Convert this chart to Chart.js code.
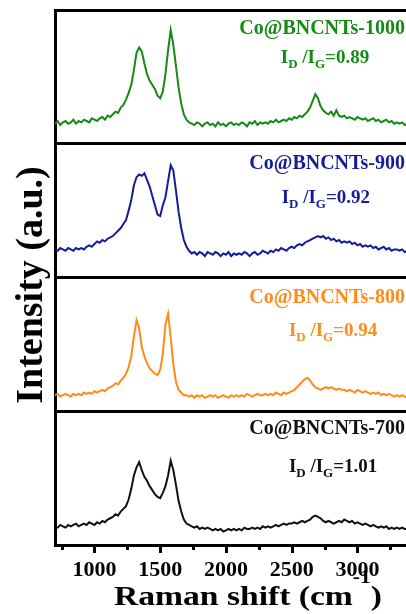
<!DOCTYPE html>
<html>
<head>
<meta charset="utf-8">
<script src="https://cdn.jsdelivr.net/npm/chart.js"></script>
<style>
  html, body { margin: 0; padding: 0; background: #fff; overflow: hidden; }
  #raman { display: block; }
</style>
</head>
<body>
<canvas id="raman" width="410" height="614"></canvas>
<script>
// Raman shift sampling (cm-1)
const shift = [
  700, 720, 740, 760, 780, 800, 820, 840, 860, 880,
  900, 920, 940, 960, 980, 1000, 1020, 1040, 1060, 1080,
  1100, 1120, 1140, 1160, 1180, 1200, 1220, 1240, 1260, 1280,
  1300, 1320, 1340, 1360, 1380, 1400, 1420, 1440, 1460, 1480,
  1500, 1520, 1540, 1560, 1580, 1600, 1620, 1640, 1660, 1680,
  1700, 1720, 1740, 1760, 1780, 1800, 1820, 1840, 1860, 1880,
  1900, 1920, 1940, 1960, 1980, 2000, 2020, 2040, 2060, 2080,
  2100, 2120, 2140, 2160, 2180, 2200, 2220, 2240, 2260, 2280,
  2300, 2320, 2340, 2360, 2380, 2400, 2420, 2440, 2460, 2480,
  2500, 2520, 2540, 2560, 2580, 2600, 2620, 2640, 2660, 2680,
  2700, 2720, 2740, 2760, 2780, 2800, 2820, 2840, 2860, 2880,
  2900, 2920, 2940, 2960, 2980, 3000, 3020, 3040, 3060, 3080,
  3100, 3120, 3140, 3160, 3180, 3200, 3220, 3240, 3260, 3280,
  3300, 3320, 3340, 3360, 3380, 3400
];

// intensities (a.u.), each spectrum on its own 0-100 panel
const co700 = [
  14, 13, 15, 14, 13, 15, 14, 15, 16, 14,
  15, 16, 15, 17, 16, 15, 17, 16, 18, 17,
  19, 20, 21, 23, 22, 25, 27, 29, 34, 42,
  52, 58, 62, 56, 51, 48, 44, 41, 38, 36,
  35, 39, 44, 52, 63, 56, 45, 33, 25, 19,
  16, 15, 14, 13, 14, 12, 13, 12, 13, 12,
  11, 12, 11, 12, 10, 11, 12, 11, 12, 11,
  12, 11, 13, 12, 12, 13, 12, 13, 12, 14,
  13, 14, 13, 14, 15, 14, 15, 16, 15, 16,
  16, 17, 16, 17, 18, 17, 18, 19, 21, 22,
  21, 20, 18, 17, 18, 17, 16, 17, 18, 17,
  19, 18, 17, 18, 16, 17, 16, 15, 16, 15,
  14, 15, 14, 13, 14, 13, 14, 12, 13, 12,
  13, 12, 13, 12, 12, 13
];
const co800 = [
  12, 13, 11, 12, 13, 12, 11, 13, 12, 13,
  12, 14, 13, 14, 13, 15, 14, 15, 16, 15,
  17, 18, 19, 21, 20, 23, 25, 28, 33, 41,
  56, 68, 62, 48, 41, 36, 32, 30, 28, 27,
  31, 43, 65, 73, 55, 35, 22, 16, 14, 12,
  12, 11, 12, 10, 12, 11, 12, 10, 11, 12,
  11, 12, 10, 11, 12, 11, 10, 12, 11, 12,
  11, 12, 11, 13, 12, 11, 12, 13, 12, 12,
  13, 12, 13, 12, 14, 13, 12, 14, 13, 14,
  15, 16, 18, 20, 22, 24, 25, 23, 20, 18,
  17, 16, 17, 18, 17, 18, 17, 16, 17, 16,
  16, 15, 16, 15, 14, 16, 15, 14, 15, 14,
  13, 14, 13, 14, 12, 13, 12, 13, 12, 11,
  12, 11, 12, 11, 10, 11
];
const co900 = [
  21, 20, 22, 21, 20, 22, 21, 20, 22, 21,
  22, 21, 23, 24, 23, 25, 27, 26, 28, 27,
  29, 30, 31, 33, 35, 37, 40, 43, 50, 58,
  69, 75, 77, 76, 78, 73, 68, 61, 54, 47,
  46, 54, 60, 72, 84, 80, 65, 49, 37, 28,
  23, 20, 18, 19, 17, 19, 18, 16, 19, 18,
  17, 19, 18, 16, 18, 17, 19, 16, 18, 17,
  18, 17, 19, 18, 16, 18, 19, 17, 18, 20,
  19, 18, 20, 19, 21, 20, 22, 21, 20, 22,
  23, 22, 24, 25, 24, 26, 27, 28, 29, 30,
  31, 30, 31, 29, 30, 28, 29, 27, 28, 26,
  27, 26, 27, 25, 26, 24, 25, 23, 24, 23,
  24, 22, 23, 21, 22, 23, 21, 22, 20, 21,
  21, 20, 21, 19, 20, 21
];
const co1000 = [
  15, 17, 14, 16, 17, 15, 16, 18, 15, 17,
  16, 18, 17, 16, 19, 18, 17, 19, 20, 18,
  21, 20, 22, 24, 23, 27, 29, 33, 38, 44,
  55, 68, 72, 69, 60, 52, 47, 44, 41, 36,
  34, 39, 52, 70, 85, 74, 58, 42, 30, 22,
  18, 16, 15, 14, 16, 15, 13, 15, 16, 14,
  15, 13, 16, 14, 15, 13, 15, 16, 14, 15,
  14, 16, 15, 13, 16, 15, 17, 14, 16, 15,
  16, 15, 17, 16, 18, 16, 17, 18, 17, 19,
  18, 20, 19, 21, 20, 22, 24, 27, 32, 37,
  34, 28, 25, 23, 22, 24, 21, 25, 21, 20,
  21, 19, 20, 19, 18, 20, 19, 18, 19, 17,
  18, 19, 17, 18, 16, 17, 18, 16, 17, 15,
  16, 15, 16, 14, 15, 16
];

const samples = ['Co@BNCNTs-700', 'Co@BNCNTs-800', 'Co@BNCNTs-900', 'Co@BNCNTs-1000'];
const ratios = ['1.01', '0.94', '0.92', '0.89'];
const xTicks = [1000, 1500, 2000, 2500, 3000];

const spectra = [co700, co800, co900, co1000];
const colors = ['#111111', '#ff8c1a', '#141c9a', '#158a15'];

// where the sample name and ID/IG go inside each panel
const labelSpots = [
  { nameY: 0.875, ratioY: 0.593, ratioX: 2815 },
  { nameY: 0.855, ratioY: 0.609, ratioX: 2815 },
  { nameY: 0.858, ratioY: 0.606, ratioX: 2760 },
  { nameY: 0.869, ratioY: 0.652, ratioX: 2753 }
];

const serif = '"Liberation Serif", "Times New Roman", serif';

// each spectrum sits in its own band: panel i spans y = i .. i+1
const datasets = spectra.map((vals, i) => ({
  label: samples[i],
  data: shift.map((s, k) => ({ x: s, y: i + vals[k] / 100 })),
  borderColor: colors[i],
  borderWidth: 2,
  pointRadius: 0,
  tension: 0,
  fill: false
}));

const panelText = {
  id: 'panelText',
  afterDraw(chart) {
    const ctx = chart.ctx;
    const xs = chart.scales.x, ys = chart.scales.y;
    ctx.save();
    ctx.textBaseline = 'alphabetic';

    labelSpots.forEach((spot, i) => {
      ctx.fillStyle = colors[i];
      // sample name, right aligned
      ctx.font = 'bold 20px ' + serif;
      ctx.textAlign = 'right';
      ctx.fillText(samples[i], 405, ys.getPixelForValue(i + spot.nameY) + 6.5);

      // I_D / I_G = value
      const parts = [
        ['I', 19, 0], ['D', 13, 5], [' /I', 19, 0], ['G', 13, 5], ['=' + ratios[i], 19, 0]
      ];
      let total = 0;
      parts.forEach(p => { ctx.font = 'bold ' + p[1] + 'px ' + serif; total += ctx.measureText(p[0]).width; });
      let px = xs.getPixelForValue(spot.ratioX) - total / 2;
      const base = ys.getPixelForValue(i + spot.ratioY) + 6.3;
      ctx.textAlign = 'left';
      parts.forEach(p => {
        ctx.font = 'bold ' + p[1] + 'px ' + serif;
        ctx.fillText(p[0], px, base + p[2]);
        px += ctx.measureText(p[0]).width;
      });
    });

    // axis titles
    ctx.fillStyle = '#000';
    ctx.font = 'bold 38px ' + serif;
    ctx.textAlign = 'center';
    ctx.save();
    ctx.translate(42, 285);
    ctx.rotate(-Math.PI / 2);
    ctx.fillText('Intensity (a.u.)', 0, 0);
    ctx.restore();

    ctx.save();
    ctx.translate(248, 605);
    ctx.scale(1.2, 1);
    ctx.font = 'bold 28px ' + serif;
    const head = 'Raman shift (cm';
    const wHead = ctx.measureText(head).width;
    ctx.font = 'bold 18px ' + serif;
    const wSup = ctx.measureText('-1').width;
    ctx.font = 'bold 28px ' + serif;
    const wTail = ctx.measureText(')').width;
    let tx = -(wHead + wSup + wTail) / 2;
    ctx.textAlign = 'left';
    ctx.fillText(head, tx, 0);
    tx += wHead;
    ctx.font = 'bold 18px ' + serif;
    ctx.fillText('-1', tx, -22);
    tx += wSup;
    ctx.font = 'bold 28px ' + serif;
    ctx.fillText(')', tx, 0);
    ctx.restore();

    ctx.restore();
  }
};

// outward tick marks on the shift axis, long at 500 steps, short between
const tickMarks = {
  id: 'tickMarks',
  afterDraw(chart) {
    const ctx = chart.ctx, xs = chart.scales.x;
    const base = chart.chartArea.bottom;
    ctx.save();
    ctx.strokeStyle = '#000';
    ctx.lineWidth = 3;
    for (let v = 750; v <= 3250; v += 250) {
      const px = Math.round(xs.getPixelForValue(v)) + 0.5;
      const len = v % 500 === 0 ? 8 : 5;
      ctx.beginPath();
      ctx.moveTo(px, base);
      ctx.lineTo(px, base + len);
      ctx.stroke();
    }
    ctx.restore();
  }
};

new Chart(document.getElementById('raman').getContext('2d'), {
  type: 'line',
  data: { datasets },
  options: {
    responsive: false,
    animation: false,
    devicePixelRatio: 1,
    layout: { padding: { top: 10, right: 0, left: 0, bottom: 0 } },
    plugins: { legend: { display: false }, tooltip: { enabled: false } },
    scales: {
      x: {
        type: 'linear',
        min: 700,
        max: 3400,
        afterFit: s => { s.height = 69; },
        afterBuildTicks: s => { s.ticks = xTicks.map(v => ({ value: v })); },
        grid: { drawOnChartArea: false, drawTicks: false },
        border: { display: true, color: '#000', width: 3 },
        ticks: {
          color: '#000',
          padding: 12,
          maxRotation: 0,
          autoSkip: false,
          font: { family: serif, size: 22, weight: 'bold' },
          callback: v => String(v)
        }
      },
      y: {
        min: 0,
        max: 4,
        afterFit: s => { s.width = 55; },
        afterBuildTicks: s => { s.ticks = [0, 1, 2, 3, 4].map(v => ({ value: v })); },
        grid: { color: '#000', lineWidth: 3, drawTicks: false },
        border: { display: true, color: '#000', width: 3 },
        ticks: { display: false }
      }
    }
  },
  plugins: [tickMarks, panelText]
});
</script>
</body>
</html>
